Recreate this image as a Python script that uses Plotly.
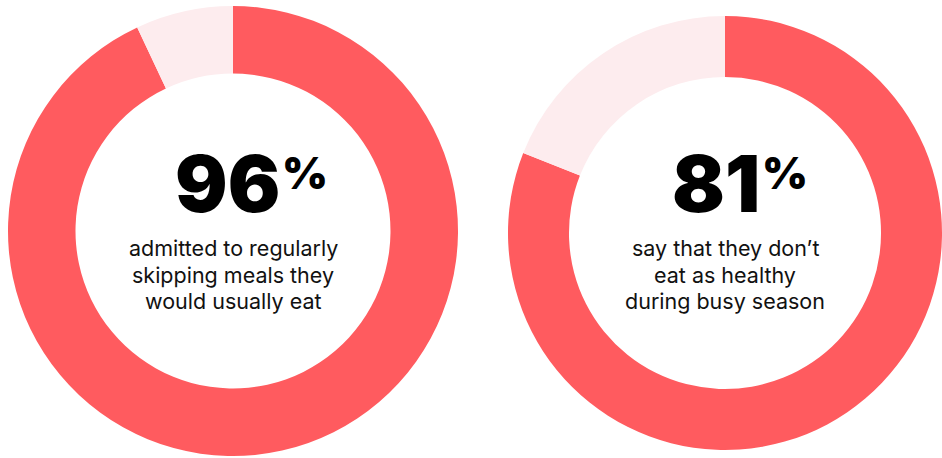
import plotly.graph_objects as go

# ---- data ----
labels = ["Yes", "No"]
left_values = [93, 7]          # arc as drawn in the picture
right_values = [81, 19]
left_number = "96"
right_number = "81"
pct_sign = "%"
left_caption = ["admitted to regularly", "skipping meals they", "would usually eat"]
right_caption = ["say that they don’t", "eat as healthy", "during busy season"]

# ---- style ----
RED = "#FF5B5F"
PINK = "#FDECEE"
W, H = 942, 458

def px_x(x):
    return x / W

def px_y(y):
    return 1 - y / H

fig = go.Figure()

fig.add_trace(go.Pie(
    labels=labels, values=left_values, sort=False, direction="clockwise", rotation=0,
    hole=0.70, marker=dict(colors=[RED, PINK], line=dict(width=0)),
    textinfo="none", hoverinfo="skip", showlegend=False,
    domain=dict(x=[px_x(8), px_x(458)], y=[px_y(456), px_y(6)]),
))
fig.add_trace(go.Pie(
    labels=labels, values=right_values, sort=False, direction="clockwise", rotation=0,
    hole=0.719, marker=dict(colors=[RED, PINK], line=dict(width=0)),
    textinfo="none", hoverinfo="skip", showlegend=False,
    domain=dict(x=[px_x(508), 1], y=[px_y(457), px_y(9)]),
))

num_font = dict(family="Inter", size=78, color="#000000", weight=900)
pct_font = dict(family="Inter", size=44, color="#000000", weight=900)
cap_font = dict(family="Inter", size=21.5, color="#111111")

line_y = [248, 275, 301]

ann = []
for cx, num, cap, split in [
    (233, left_number, left_caption, 281),
    (725, right_number, right_caption, 761),
]:
    ann.append(dict(text=num, x=px_x(split), y=px_y(183), xref="paper", yref="paper",
                    xanchor="right", yanchor="middle", showarrow=False, font=num_font,
                    borderpad=0))
    ann.append(dict(text=pct_sign, x=px_x(split), y=px_y(173), xref="paper", yref="paper",
                    xanchor="left", yanchor="middle", showarrow=False, font=pct_font,
                    borderpad=0))
    for line, ly in zip(cap, line_y):
        ann.append(dict(text=line, x=px_x(cx), y=px_y(ly), xref="paper", yref="paper",
                        xanchor="center", yanchor="middle", showarrow=False, font=cap_font))

fig.update_layout(
    width=W, height=H, margin=dict(l=0, r=0, t=0, b=0),
    paper_bgcolor="white", plot_bgcolor="white",
    annotations=ann, showlegend=False,
)

fig.write_html("out.html")
